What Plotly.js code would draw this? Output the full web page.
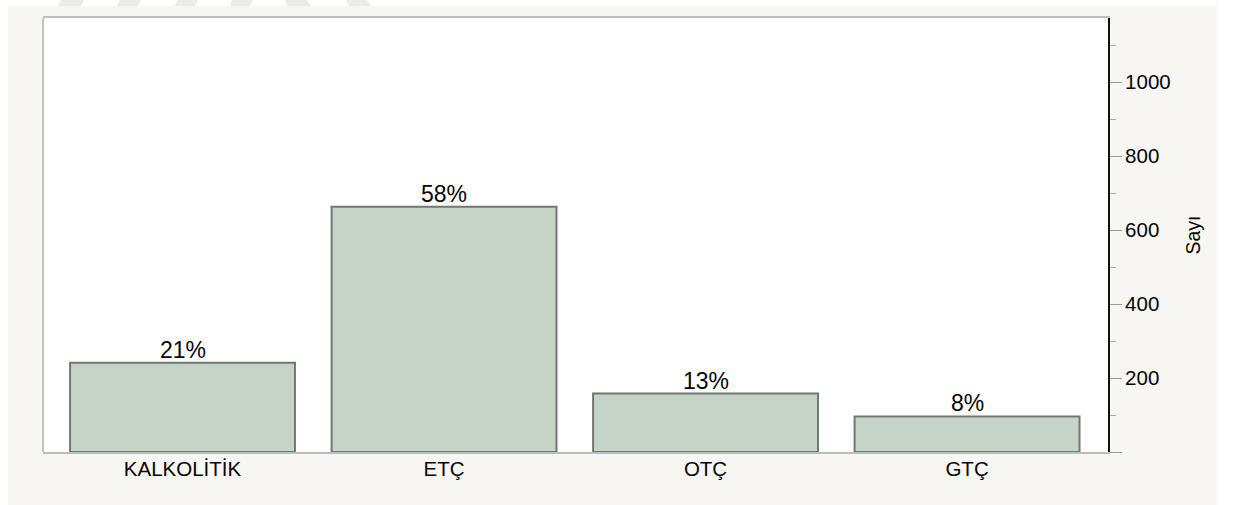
<!DOCTYPE html>
<html>
<head>
<meta charset="utf-8">
<script src="https://cdn.plot.ly/plotly-3.0.1.min.js"></script>
<style>
  html, body { margin: 0; padding: 0; background: #ffffff; width: 1234px; height: 505px; overflow: hidden; }
  #deco { position: absolute; left: 0; top: 0; }
  #chart { position: absolute; left: 8px; top: 6px; width: 1209px; height: 499px; }
</style>
</head>
<body>
<svg id="deco" width="1234" height="6">
  <polygon points="61,0 84,0 81,6 58,6" fill="#ebebeb"/>
  <polygon points="120,0 141,0 138,6 117,6" fill="#ebebeb"/>
  <polygon points="177,0 198,0 195,6 175,6" fill="#ebebeb"/>
  <polygon points="232,0 253,0 250,6 230,6" fill="#ebebeb"/>
  <polygon points="285,0 307,0 311,6 288,6" fill="#ebebeb"/>
  <polygon points="346,0 367,0 371,6 349,6" fill="#ebebeb"/>
</svg>
<div id="chart"></div>
<script>
const categories = ["KALKOLİTİK", "ETÇ", "OTÇ", "GTÇ"];
const counts = [241, 663, 158, 96];
const percentLabels = ["21%", "58%", "13%", "8%"];
const yTickVals = [0, 200, 400, 600, 800, 1000];
const yTickText = ["", "200", "400", "600", "800", "1000"];

const FONT = "Liberation Sans, Arial, Helvetica, sans-serif";

const trace = {
  type: "bar",
  x: categories,
  y: counts,
  width: 0.86,
  marker: { color: "#c6d4c8", line: { color: "#707872", width: 2 } },
  hoverinfo: "x+y"
};

const labelAnnotations = categories.map((c, i) => ({
  x: c,
  y: counts[i],
  xref: "x",
  yref: "y",
  text: percentLabels[i],
  showarrow: false,
  yanchor: "bottom",
  xanchor: "center",
  yshift: -2,
  font: { family: FONT, size: 23, color: "#050505" }
}));

const layout = {
  width: 1209,
  height: 499,
  margin: { l: 35, r: 109, t: 11.5, b: 52.5, pad: 0 },
  paper_bgcolor: "#f7f6f2",
  plot_bgcolor: "#ffffff",
  showlegend: false,
  font: { family: FONT, size: 20, color: "#050505" },
  xaxis: {
    type: "category",
    range: [-0.5335, 3.539],
    showline: true,
    linecolor: "#bdbdbd",
    linewidth: 2,
    mirror: true,
    ticks: "",
    showgrid: false,
    zeroline: false,
    tickfont: { family: FONT, size: 20.5, color: "#050505" },
    ticklabelstandoff: -3,
    fixedrange: true
  },
  yaxis: {
    side: "right",
    range: [0, 1173],
    showline: true,
    linecolor: "#111111",
    linewidth: 2,
    showgrid: false,
    zeroline: false,
    tickmode: "array",
    tickvals: yTickVals,
    ticktext: yTickText,
    ticks: "outside",
    ticklen: 12,
    tickwidth: 1,
    tickcolor: "#999999",
    tickfont: { family: FONT, size: 20.5, color: "#050505" },
    ticklabelstandoff: -1,
    minor: { tickmode: "linear", tick0: 0, dtick: 100, ticks: "outside", ticklen: 6, tickcolor: "#aaaaaa", tickwidth: 1, showgrid: false },
    title: { text: "Sayı", font: { family: FONT, size: 19.5, color: "#050505" }, standoff: 17 },
    fixedrange: true
  },
  annotations: labelAnnotations,
  shapes: [
    { type: "line", xref: "paper", yref: "paper", x0: 0, x1: 0, y0: 0, y1: 1, line: { color: "#c4c4c4", width: 2 } }
  ]
};

Plotly.newPlot("chart", [trace], layout, { displayModeBar: false, staticPlot: true });
</script>
</body>
</html>
